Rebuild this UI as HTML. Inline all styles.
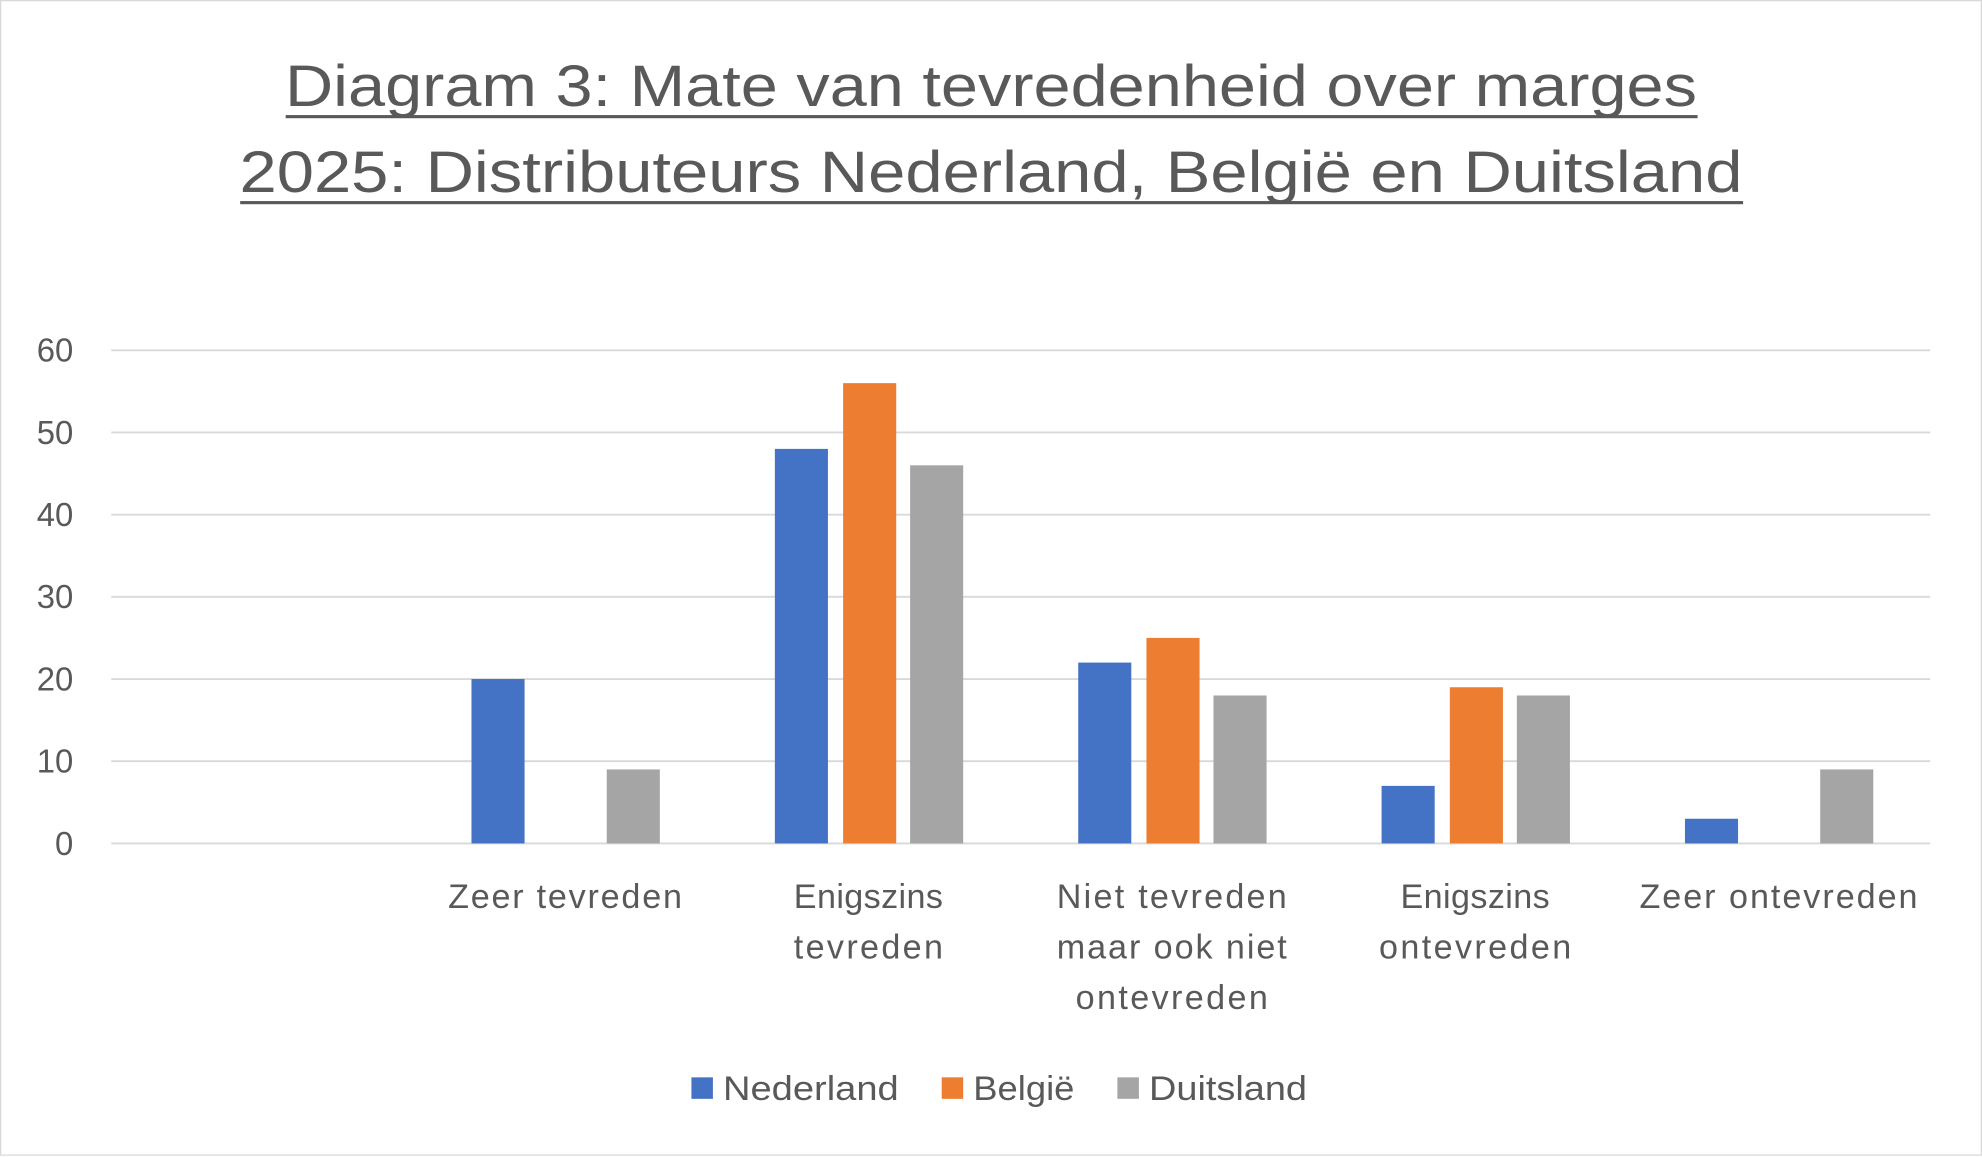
<!DOCTYPE html>
<html><head><meta charset="utf-8"><style>html,body{margin:0;padding:0;background:#fff}svg{display:block}</style></head>
<body>
<svg width="1982" height="1157" viewBox="0 0 1568 915" preserveAspectRatio="none" xmlns="http://www.w3.org/2000/svg" font-family="Liberation Sans, sans-serif">
<rect x="0.5" y="0.5" width="1567" height="913" fill="#fff" stroke="#d9d9d9"/>
<g fill="#595959" font-size="46" text-anchor="middle">
<text x="784" y="84" textLength="1117" lengthAdjust="spacingAndGlyphs">Diagram 3: Mate van tevredenheid over marges</text>
<text x="784" y="152" textLength="1189" lengthAdjust="spacingAndGlyphs">2025: Distributeurs Nederland, België en Duitsland</text>
</g>
<rect x="226" y="91" width="1117" height="2.5" fill="#595959"/>
<rect x="190" y="159" width="1189" height="2.5" fill="#595959"/>
<g stroke="#d9d9d9" stroke-width="1.5">
<line x1="88" x2="1527" y1="277" y2="277"/><line x1="88" x2="1527" y1="342" y2="342"/>
<line x1="88" x2="1527" y1="407" y2="407"/><line x1="88" x2="1527" y1="472" y2="472"/>
<line x1="88" x2="1527" y1="537" y2="537"/><line x1="88" x2="1527" y1="602" y2="602"/>
<line x1="88" x2="1527" y1="667" y2="667"/>
</g>
<g fill="#595959" font-size="26" text-anchor="end">
<text x="58" y="286">60</text><text x="58" y="351">50</text><text x="58" y="416">40</text>
<text x="58" y="481">30</text><text x="58" y="546">20</text><text x="58" y="611">10</text><text x="58" y="676">0</text>
</g>
<g fill="#4472c4">
<rect x="373" y="537" width="42" height="130"/><rect x="613" y="355" width="42" height="312"/>
<rect x="853" y="524" width="42" height="143"/><rect x="1093" y="621.5" width="42" height="45.5"/>
<rect x="1333" y="647.5" width="42" height="19.5"/>
</g>
<g fill="#ed7d31">
<rect x="667" y="303" width="42" height="364"/><rect x="907" y="504.5" width="42" height="162.5"/>
<rect x="1147" y="543.5" width="42" height="123.5"/>
</g>
<g fill="#a5a5a5">
<rect x="480" y="608.5" width="42" height="58.5"/><rect x="720" y="368" width="42" height="299"/>
<rect x="960" y="550" width="42" height="117"/><rect x="1200" y="550" width="42" height="117"/>
<rect x="1440" y="608.5" width="42" height="58.5"/>
</g>
<g fill="#595959" font-size="27" text-anchor="middle" lengthAdjust="spacingAndGlyphs">
<text x="447" y="718" textLength="185">Zeer tevreden</text>
<text x="687" y="718" textLength="118">Enigszins</text><text x="687" y="758" textLength="118">tevreden</text>
<text x="927" y="718" textLength="182">Niet tevreden</text><text x="927" y="758" textLength="182">maar ook niet</text><text x="927" y="798" textLength="152">ontevreden</text>
<text x="1167" y="718" textLength="118">Enigszins</text><text x="1167" y="758" textLength="152">ontevreden</text>
<text x="1407" y="718" textLength="220">Zeer ontevreden</text>
</g>
<rect x="547" y="852" width="17" height="17" fill="#4472c4"/>
<rect x="745" y="852" width="17" height="17" fill="#ed7d31"/>
<rect x="884" y="852" width="17" height="17" fill="#a5a5a5"/>
<g fill="#595959" font-size="27">
<text x="572" y="870" textLength="139" lengthAdjust="spacingAndGlyphs">Nederland</text><text x="770" y="870" textLength="80" lengthAdjust="spacingAndGlyphs">België</text><text x="909" y="870" textLength="125" lengthAdjust="spacingAndGlyphs">Duitsland</text>
</g>
</svg>
</body></html>
